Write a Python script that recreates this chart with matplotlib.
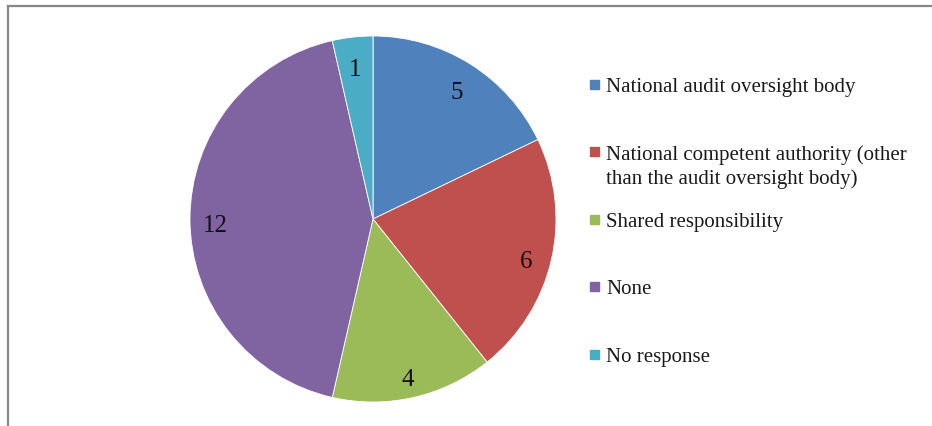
import matplotlib
matplotlib.use("Agg")
import matplotlib.pyplot as plt
from matplotlib.lines import Line2D
from matplotlib.patches import Rectangle
from matplotlib.transforms import offset_copy

plt.rcParams.update({"font.family": ["Liberation Serif", "DejaVu Serif"]})

categories = [
    "National audit oversight body",
    "National competent authority (other\nthan the audit oversight body)",
    "Shared responsibility",
    "None",
    "No response",
]
counts = [5, 6, 4, 12, 1]
colors = ["#4F81BD", "#C0504D", "#9BBB59", "#8064A2", "#4BACC6"]

W, H = 932, 427
fig = plt.figure(figsize=(W / 100, H / 100), dpi=100)

# pie axes placed in pixel terms: centre (373, 220), radius 183
cx, cy, r = 373, 220, 183
ax = fig.add_axes([(cx - r) / W, (H - cy - r) / H, 2 * r / W, 2 * r / H])
total = sum(counts)
_, _, autotexts = ax.pie(counts, colors=colors, startangle=90, counterclock=False,
                         autopct=lambda p: f"{round(p * total / 100)}", pctdistance=0.86,
                         wedgeprops=dict(edgecolor="white", linewidth=0.6),
                         textprops=dict(fontsize=18, color="#111111", va="center_baseline"))
# the Excel labels sit a few pixels lower than the geometric centre
for t in autotexts:
    t.set_transform(offset_copy(ax.transData, fig=fig, y=-4, units="dots"))
ax.set_xlim(-1, 1)
ax.set_ylim(-1, 1)
ax.set_aspect("equal")

# legend drawn by hand so the marker sits on the first line of text
y0, step = 85, 67.5
for i, (lab, col) in enumerate(zip(categories, colors)):
    y = y0 + i * step
    fig.patches.append(Rectangle((590 / W, (H - y - 4.5) / H), 9 / W, 9 / H,
                                 transform=fig.transFigure, color=col))
    fig.text(606 / W, (H - y + 7) / H, lab, fontsize=15, color="#1a1a1a",
             ha="left", va="top", linespacing=1.25)

# outer frame (only top and left edges are visible in the crop)
fig.lines.append(Line2D([8 / W, 1], [1 - 7 / H, 1 - 7 / H], transform=fig.transFigure,
                        color="#888888", linewidth=1.6))
fig.lines.append(Line2D([8 / W, 8 / W], [0, 1 - 7 / H], transform=fig.transFigure,
                        color="#888888", linewidth=1.6))

fig.savefig("out.png", dpi=100)
